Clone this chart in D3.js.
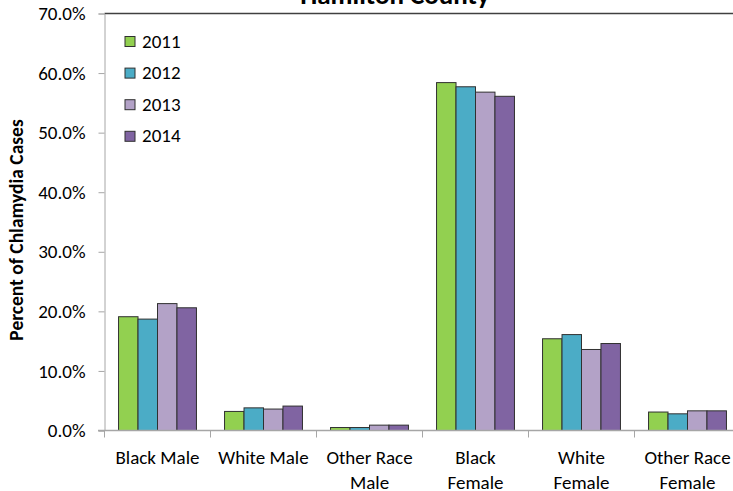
<!DOCTYPE html>
<html lang="en">
<head>
  <meta charset="UTF-8">
  <title>Hamilton County</title>
  <script src="https://cdn.jsdelivr.net/npm/d3@7"></script>
  <style>
    body { margin: 0; background: #fff; }
    text { font-family: Carlito, "Liberation Sans", Arial, sans-serif; fill: #000; }
  </style>
</head>
<body>
<script>
  var categories = [['Black Male'], ['White Male'], ['Other Race', 'Male'], ['Black', 'Female'], ['White', 'Female'], ['Other Race', 'Female']];
  var years = ['2011', '2012', '2013', '2014'];
  var v2011 = [19.1, 3.2, 0.5, 58.4, 15.4, 3.1];
  var v2012 = [18.7, 3.8, 0.5, 57.7, 16.1, 2.8];
  var v2013 = [21.3, 3.6, 0.9, 56.8, 13.6, 3.3];
  var v2014 = [20.6, 4.1, 0.9, 56.1, 14.6, 3.3];
  var yTicks = [0, 10, 20, 30, 40, 50, 60, 70];
  var colors = ['#92d050', '#4bacc6', '#b3a2c7', '#8064a2'];

  var series = [v2011, v2012, v2013, v2014];
  var W = 733, H = 491;
  var svg = d3.select('body').append('svg').attr('width', W).attr('height', H);

  var x0 = d3.scaleBand().domain(d3.range(categories.length)).range([104.5, 740.5]).paddingInner(0.265).paddingOuter(0.1325);
  var x1 = d3.scaleBand().domain(years).range([0, x0.bandwidth()]);
  var y = d3.scaleLinear().domain([0, 70]).range([430.5, 13.5]);

  // title (mostly cut off above the page)
  svg.append('text').attr('x', 395).attr('y', 4).attr('text-anchor', 'middle')
    .style('font-weight', 'bold').style('font-size', '27px').text('Hamilton County');

  // top border of plot area
  svg.append('line').attr('x1', 104.5).attr('x2', W).attr('y1', y(70)).attr('y2', y(70))
    .attr('stroke', '#404040').attr('stroke-width', 1.5);

  // y axis
  var yAxis = svg.append('g').attr('transform', 'translate(104.5,0)')
    .call(d3.axisLeft(y).tickValues(yTicks).tickSize(6).tickPadding(13).tickFormat(function(d){ return d.toFixed(1) + '%'; }));
  yAxis.select('.domain').attr('stroke', '#a6a6a6');
  yAxis.selectAll('.tick line').attr('stroke', '#a6a6a6');
  yAxis.selectAll('.tick text').style('font-size', '19px').attr('fill', '#000');

  // bars
  var groups = svg.selectAll('g.grp').data(categories).enter().append('g').attr('class', 'grp')
    .attr('transform', function(d, i){ return 'translate(' + x0(i) + ',0)'; });
  groups.selectAll('rect').data(function(d, i){ return years.map(function(yr, j){ return {yr: yr, v: series[j][i], j: j}; }); })
    .enter().append('rect')
    .attr('x', function(d){ return x1(d.yr); })
    .attr('width', x1.bandwidth())
    .attr('y', function(d){ return y(d.v); })
    .attr('height', function(d){ return y(0) - y(d.v); })
    .attr('fill', function(d){ return colors[d.j]; })
    .attr('stroke', '#303030').attr('stroke-width', 1);

  // x axis
  var xb = d3.range(categories.length + 1).map(function(i){ return 104.5 + i * 106; });
  svg.append('line').attr('x1', 98).attr('x2', W).attr('y1', y(0)).attr('y2', y(0))
    .attr('stroke', '#a6a6a6').attr('stroke-width', 1.5);
  svg.selectAll('line.xt').data(xb).enter().append('line').attr('class', 'xt')
    .attr('x1', function(d){ return d; }).attr('x2', function(d){ return d; })
    .attr('y1', y(0)).attr('y2', y(0) + 7).attr('stroke', '#a6a6a6');
  var lab = svg.selectAll('text.xl').data(categories).enter().append('text').attr('class', 'xl')
    .attr('text-anchor', 'middle').style('font-size', '19px')
    .attr('transform', function(d, i){ return 'translate(' + (x0(i) + x0.bandwidth() / 2) + ',464)'; });
  lab.selectAll('tspan').data(function(d){ return d; }).enter().append('tspan')
    .attr('x', 0).attr('dy', function(d, i){ return i ? 24.5 : 0; }).text(function(d){ return d; });

  // y label
  svg.append('text').attr('transform', 'translate(23,230) rotate(-90)').attr('text-anchor', 'middle')
    .style('font-weight', 'bold').style('font-size', '19.5px').text('Percent of Chlamydia Cases');

  // legend
  var leg = svg.selectAll('g.leg').data(years).enter().append('g').attr('class', 'leg')
    .attr('transform', function(d, i){ return 'translate(125,' + (36.5 + i * 31.6) + ')'; });
  leg.append('rect').attr('width', 10).attr('height', 10)
    .attr('fill', function(d, i){ return colors[i]; }).attr('stroke', '#303030');
  leg.append('text').attr('x', 17).attr('y', 11).style('font-size', '19px').text(function(d){ return d; });
</script>
</body>
</html>
